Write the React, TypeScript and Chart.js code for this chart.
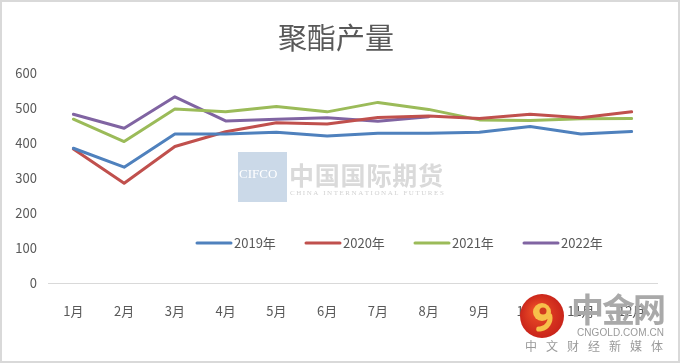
import React, { useEffect, useRef } from "react";
import { Chart, registerables } from "chart.js";

Chart.register(...registerables);

const categories = ["1月", "2月", "3月", "4月", "5月", "6月", "7月", "8月", "9月", "10月", "11月", "12月"];
const seriesNames = ["2019年", "2020年", "2021年", "2022年"];
const s2019 = [385, 331, 426, 426, 431, 420, 428, 428, 431, 447, 426, 433];
const s2020 = [383, 285, 390, 432, 458, 454, 473, 477, 470, 482, 472, 489];
const s2021 = [468, 404, 497, 489, 504, 489, 516, 496, 466, 464, 469, 470];
const s2022 = [482, 442, 532, 463, 468, 472, 462, 475, null, null, null, null];
const seriesColors = ["#4f81bd", "#c0504d", "#9bbb59", "#8064a2"];
const yMin = 0;
const yMax = 600;
const yStep = 100;
const titleText = "聚酯产量";

const FONT = "'Noto Sans CJK SC', 'Noto Sans', sans-serif";
const TEXT_COLOR = "#595959";

function spacedText(ctx: any, text: string, x: number, y: number, totalWidth: number) {
  const w = ctx.measureText(text).width;
  const extra = text.length > 1 ? (totalWidth - w) / (text.length - 1) : 0;
  let cx = x;
  for (const ch of text) {
    ctx.fillText(ch, cx, y);
    cx += ctx.measureText(ch).width + extra;
  }
}

const decorPlugin = {
  id: "decor",
  beforeDraw(chart: any) {
    const { ctx, width, height, chartArea } = chart;
    ctx.save();
    ctx.fillStyle = "#ffffff";
    ctx.fillRect(0, 0, width, height);
    // title
    ctx.fillStyle = TEXT_COLOR;
    ctx.font = `29px ${FONT}`;
    ctx.textAlign = "center";
    ctx.textBaseline = "middle";
    ctx.fillText(titleText, 336, 38);
    // CIFCO watermark
    const wx = chartArea.left + 190;
    const wy = chartArea.top + 79;
    ctx.fillStyle = "#cbd9e8";
    ctx.fillRect(wx, wy, 49, 50);
    ctx.fillStyle = "#ffffff";
    ctx.font = `13px 'Liberation Serif', serif`;
    ctx.textAlign = "left";
    ctx.fillText("CIFCO", wx + 1, wy + 23);
    ctx.fillStyle = "#dadada";
    ctx.font = `bold 25px ${FONT}`;
    spacedText(ctx, "中国国际期货", wx + 51, wy + 23, 154);
    ctx.font = `7px 'Liberation Serif', serif`;
    ctx.fillStyle = "#d2d2d2";
    spacedText(ctx, "CHINA INTERNATIONAL FUTURES", wx + 52, wy + 41, 153);
    ctx.restore();
  },
  afterDraw(chart: any) {
    const { ctx, width, height, chartArea } = chart;
    ctx.save();
    // legend
    const ly = chartArea.top + 170;
    let lx = chartArea.left + 149;
    ctx.font = `13px ${FONT}`;
    ctx.textBaseline = "middle";
    ctx.textAlign = "left";
    seriesNames.forEach((name, i) => {
      ctx.strokeStyle = seriesColors[i];
      ctx.lineWidth = 3;
      ctx.lineCap = "round";
      ctx.beginPath();
      ctx.moveTo(lx, ly);
      ctx.lineTo(lx + 34, ly);
      ctx.stroke();
      ctx.fillStyle = TEXT_COLOR;
      ctx.fillText(name, lx + 37, ly);
      lx += 109;
    });
    // 中金网 watermark
    const cx = 542;
    const cy = 316;
    const g = ctx.createRadialGradient(cx - 6, cy - 6, 3, cx, cy, 23);
    g.addColorStop(0, "#ea4b26");
    g.addColorStop(1, "#c8231a");
    ctx.fillStyle = g;
    ctx.beginPath();
    ctx.arc(cx, cy, 22, 0, Math.PI * 2);
    ctx.fill();
    ctx.fillStyle = "#f7c04a";
    ctx.beginPath();
    ctx.arc(cx, cy - 4, 9, 0, Math.PI * 2);
    ctx.fill();
    ctx.fillStyle = "#d23a1f";
    ctx.beginPath();
    ctx.arc(cx + 1, cy - 5, 3.5, 0, Math.PI * 2);
    ctx.fill();
    ctx.strokeStyle = "#f7c04a";
    ctx.lineWidth = 5;
    ctx.beginPath();
    ctx.arc(cx - 3, cy + 2, 11, -0.2, 1.6);
    ctx.stroke();
    ctx.fillStyle = "#a9a9a9";
    ctx.font = `bold 33px ${FONT}`;
    ctx.textAlign = "left";
    ctx.textBaseline = "middle";
    spacedText(ctx, "中金网", 571, 309, 95);
    ctx.fillStyle = "#9a9a9a";
    ctx.font = `10px 'Liberation Sans', sans-serif`;
    spacedText(ctx, "CNGOLD.COM.CN", 577, 333, 87);
    ctx.font = `12px ${FONT}`;
    spacedText(ctx, "中文财经新媒体", 525, 346, 138);
    // border
    ctx.strokeStyle = "#d9d9d9";
    ctx.lineWidth = 2;
    ctx.strokeRect(1, 1, width - 2, height - 2);
    ctx.restore();
  },
};

export default function App() {
  const ref = useRef<HTMLCanvasElement | null>(null);
  useEffect(() => {
    if (!ref.current) return;
    const chart = new Chart(ref.current, {
      type: "line",
      data: {
        labels: categories,
        datasets: [s2019, s2020, s2021, s2022].map((d, i) => ({
          label: seriesNames[i],
          data: d,
          borderColor: seriesColors[i],
          backgroundColor: seriesColors[i],
          borderWidth: 3,
          pointRadius: 0,
          tension: 0,
          spanGaps: false,
          borderCapStyle: "round" as const,
          borderJoinStyle: "round" as const,
        })),
      },
      options: {
        responsive: false,
        animation: false,
        devicePixelRatio: 1,
        layout: { padding: { top: 73, right: 23, left: 0, bottom: 0 } },
        plugins: {
          legend: { display: false },
          title: { display: false },
          tooltip: { enabled: false },
        },
        scales: {
          x: {
            offset: true,
            grid: { display: false, drawTicks: false },
            border: { display: true, color: "#d9d9d9", width: 1 },
            ticks: { color: TEXT_COLOR, font: { family: FONT, size: 13 }, padding: 20, maxRotation: 0, autoSkip: false },
            afterFit: (s: any) => { s.height = 80; },
          },
          y: {
            min: yMin,
            max: yMax,
            grid: { display: false, drawTicks: false },
            border: { display: false },
            ticks: { stepSize: yStep, color: TEXT_COLOR, font: { family: FONT, size: 13 }, padding: 11 },
            afterFit: (s: any) => { s.width = 48; },
          },
        },
      },
      plugins: [decorPlugin],
    });
    return () => chart.destroy();
  }, []);
  return (
    <div style={{ position: "absolute", left: 0, top: 0, width: 680, height: 363 }}>
      <canvas ref={ref} width={680} height={363} style={{ display: "block" }} />
    </div>
  );
}
